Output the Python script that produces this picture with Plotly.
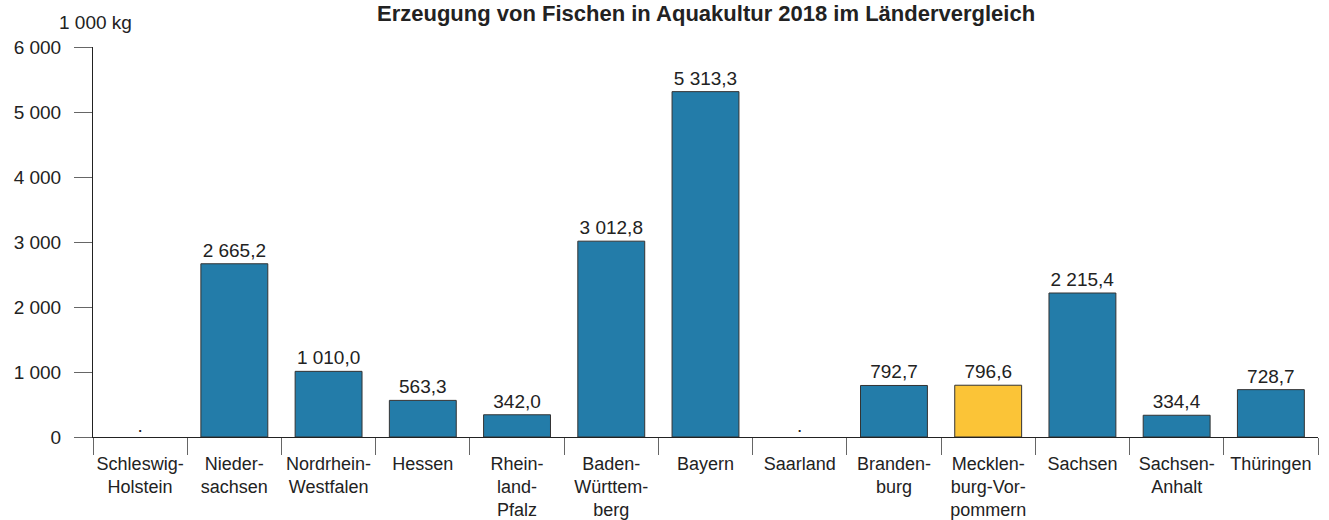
import plotly.graph_objects as go

categories = ["Schleswig-<br>Holstein", "Nieder-<br>sachsen", "Nordrhein-<br>Westfalen", "Hessen",
              "Rhein-<br>land-<br>Pfalz", "Baden-<br>Württem-<br>berg", "Bayern", "Saarland",
              "Branden-<br>burg", "Mecklen-<br>burg-Vor-<br>pommern", "Sachsen", "Sachsen-<br>Anhalt",
              "Thüringen"]
values = [None, 2665.2, 1010.0, 563.3, 342.0, 3012.8, 5313.3, None, 792.7, 796.6, 2215.4, 334.4, 728.7]
highlight = "Mecklen-<br>burg-Vor-<br>pommern"
y_ticks = [0, 1000, 2000, 3000, 4000, 5000, 6000]
title_text = "Erzeugung von Fischen in Aquakultur 2018 im Ländervergleich"
unit_text = "1 000 kg"

BLUE = "#237CA9"
YELLOW = "#FBC437"
FONT = "Liberation Sans, Arial, sans-serif"
TXT = "#222222"

colors = [YELLOW if c == highlight else BLUE for c in categories]

fig = go.Figure()
fig.add_trace(go.Bar(
    x=categories, y=values, marker=dict(color=colors, line=dict(color="#333333", width=1)),
    width=0.71, texttemplate="%{y:,.1f}", textposition="outside", cliponaxis=False,
    textfont=dict(family=FONT, size=19, color=TXT), hoverinfo="skip", showlegend=False,
))
missing_x = [c for c, v in zip(categories, values) if v is None]
fig.add_trace(go.Scatter(
    x=missing_x, y=[0] * len(missing_x), mode="text", text=["."] * len(missing_x),
    textposition="top center", textfont=dict(family=FONT, size=19, color=TXT),
    hoverinfo="skip", showlegend=False, cliponaxis=False,
))

fig.update_layout(
    width=1329, height=520, separators=", ",
    margin=dict(l=93, r=11, t=47, b=83),
    paper_bgcolor="white", plot_bgcolor="white",
    font=dict(family=FONT, size=19, color=TXT),
    xaxis=dict(type="category", range=[-0.5, len(categories) - 0.5], tickangle=0,
               tickson="boundaries", ticks="outside", ticklen=17,
               tickcolor="#666666", tickwidth=1, showline=True, linecolor="#222222",
               linewidth=1, showgrid=False, tickfont=dict(family=FONT, size=18, color=TXT),
               ticklabelstandoff=10, automargin=False, fixedrange=True),
    yaxis=dict(range=[0, 6000], tickvals=y_ticks, tickformat=",d", ticks="outside",
               ticklen=18, tickcolor="#666666", showline=True, linecolor="#222222",
               linewidth=1, showgrid=False, zeroline=False, ticklabelstandoff=9,
               tickfont=dict(family=FONT, size=19, color=TXT), automargin=False,
               fixedrange=True),
    annotations=[
        dict(text="<b>" + title_text + "</b>", xref="paper", yref="paper", x=0.5, y=1,
             yanchor="middle", xanchor="center", yshift=34, showarrow=False,
             font=dict(family=FONT, size=22, color=TXT)),
        dict(text=unit_text, xref="paper", yref="paper", x=0, y=1, xanchor="center",
             yanchor="middle", xshift=2, yshift=25, showarrow=False,
             font=dict(family=FONT, size=19, color=TXT)),
    ],
)

fig.write_html("out.html", config={"displayModeBar": False},
               post_script="document.body.style.margin='0';")
